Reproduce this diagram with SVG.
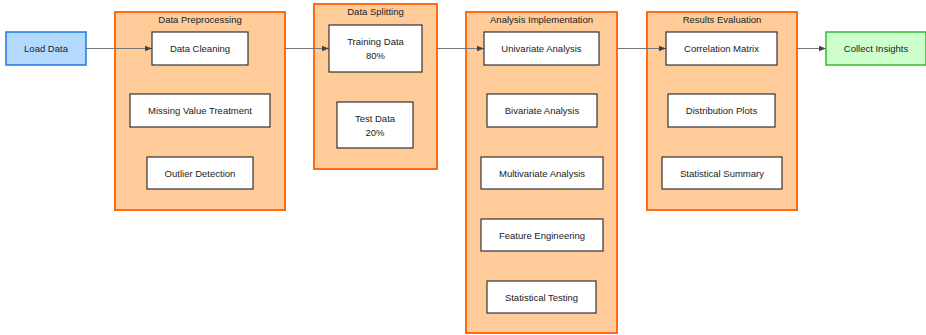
<svg xmlns="http://www.w3.org/2000/svg" width="926" height="335" viewBox="0 0 926 335">
  <style>
    text { font-family: "Liberation Sans", Arial, sans-serif; font-size: 9.5px; fill: #222; text-anchor: middle; }
    .cluster { fill: #ffcc99; stroke: #ff6a13; stroke-width: 2; }
    .node { fill: #ffffff; stroke: #333333; stroke-width: 1.2; }
    .start { fill: #b3d9ff; stroke: #1f7ae0; stroke-width: 1.5; }
    .end { fill: #ccffcc; stroke: #33bb33; stroke-width: 1.5; }
    .edge { fill: none; stroke: #777777; stroke-width: 1; marker-end: url(#arrow); }
  </style>
  <defs>
    <marker id="arrow" viewBox="0 0 10 10" refX="10" refY="5" markerWidth="7" markerHeight="7" markerUnits="userSpaceOnUse" orient="auto">
      <path d="M0,1 L10,5 L0,9 Z" fill="#444444"/>
    </marker>
  </defs>
  <rect width="926" height="335" fill="#ffffff"/>

  <!-- clusters -->
  <g id="cluster-preprocessing">
    <rect class="cluster" x="115" y="12" width="170" height="198"/>
    <text x="200" y="22.5">Data Preprocessing</text>
  </g>
  <g id="cluster-splitting">
    <rect class="cluster" x="314" y="4" width="123" height="165"/>
    <text x="375.5" y="15">Data Splitting</text>
  </g>
  <g id="cluster-analysis">
    <rect class="cluster" x="466" y="12" width="151" height="321"/>
    <text x="541.5" y="22.5">Analysis Implementation</text>
  </g>
  <g id="cluster-results">
    <rect class="cluster" x="647" y="12" width="150" height="198"/>
    <text x="722" y="22.5">Results Evaluation</text>
  </g>

  <!-- connectors -->
  <g id="connectors">
    <path class="edge" d="M86,48.5 L152,48.5"/>
    <path class="edge" d="M285,48.5 L329,48.5"/>
    <path class="edge" d="M437,48.5 L484,48.5"/>
    <path class="edge" d="M617,48.5 L666,48.5"/>
    <path class="edge" d="M797,48.5 L826,48.5"/>
  </g>

  <!-- nodes -->
  <g id="load-data">
    <rect class="start" x="6" y="32" width="80" height="33"/>
    <text x="46" y="52">Load Data</text>
  </g>
  <g id="data-cleaning">
    <rect class="node" x="152" y="32" width="96" height="33"/>
    <text x="200" y="52">Data Cleaning</text>
  </g>
  <g id="missing-value">
    <rect class="node" x="130" y="94" width="140" height="33"/>
    <text x="200" y="114">Missing Value Treatment</text>
  </g>
  <g id="outlier-detection">
    <rect class="node" x="147" y="157" width="106" height="32"/>
    <text x="200" y="176.5">Outlier Detection</text>
  </g>
  <g id="training-data">
    <rect class="node" x="329" y="25" width="93" height="47"/>
    <text x="375.5" y="45">Training Data</text>
    <text x="375.5" y="59">80%</text>
  </g>
  <g id="test-data">
    <rect class="node" x="337" y="102" width="76" height="46"/>
    <text x="375" y="121.5">Test Data</text>
    <text x="375" y="135.5">20%</text>
  </g>
  <g id="univariate">
    <rect class="node" x="484" y="32" width="115" height="33"/>
    <text x="541.5" y="52">Univariate Analysis</text>
  </g>
  <g id="bivariate">
    <rect class="node" x="487" y="94" width="110" height="33"/>
    <text x="542" y="114">Bivariate Analysis</text>
  </g>
  <g id="multivariate">
    <rect class="node" x="481" y="157" width="122" height="32"/>
    <text x="542" y="176.5">Multivariate Analysis</text>
  </g>
  <g id="feature-engineering">
    <rect class="node" x="481" y="219" width="122" height="32"/>
    <text x="542" y="238.5">Feature Engineering</text>
  </g>
  <g id="statistical-testing">
    <rect class="node" x="487" y="281" width="109" height="32"/>
    <text x="541.5" y="300.5">Statistical Testing</text>
  </g>
  <g id="correlation-matrix">
    <rect class="node" x="666" y="32" width="111" height="33"/>
    <text x="721.5" y="52">Correlation Matrix</text>
  </g>
  <g id="distribution-plots">
    <rect class="node" x="668" y="94" width="107" height="33"/>
    <text x="721.5" y="114">Distribution Plots</text>
  </g>
  <g id="statistical-summary">
    <rect class="node" x="662" y="157" width="120" height="32"/>
    <text x="722" y="176.5">Statistical Summary</text>
  </g>
  <g id="collect-insights">
    <rect class="end" x="826" y="32" width="100" height="33"/>
    <text x="876" y="52">Collect Insights</text>
  </g>
</svg>
